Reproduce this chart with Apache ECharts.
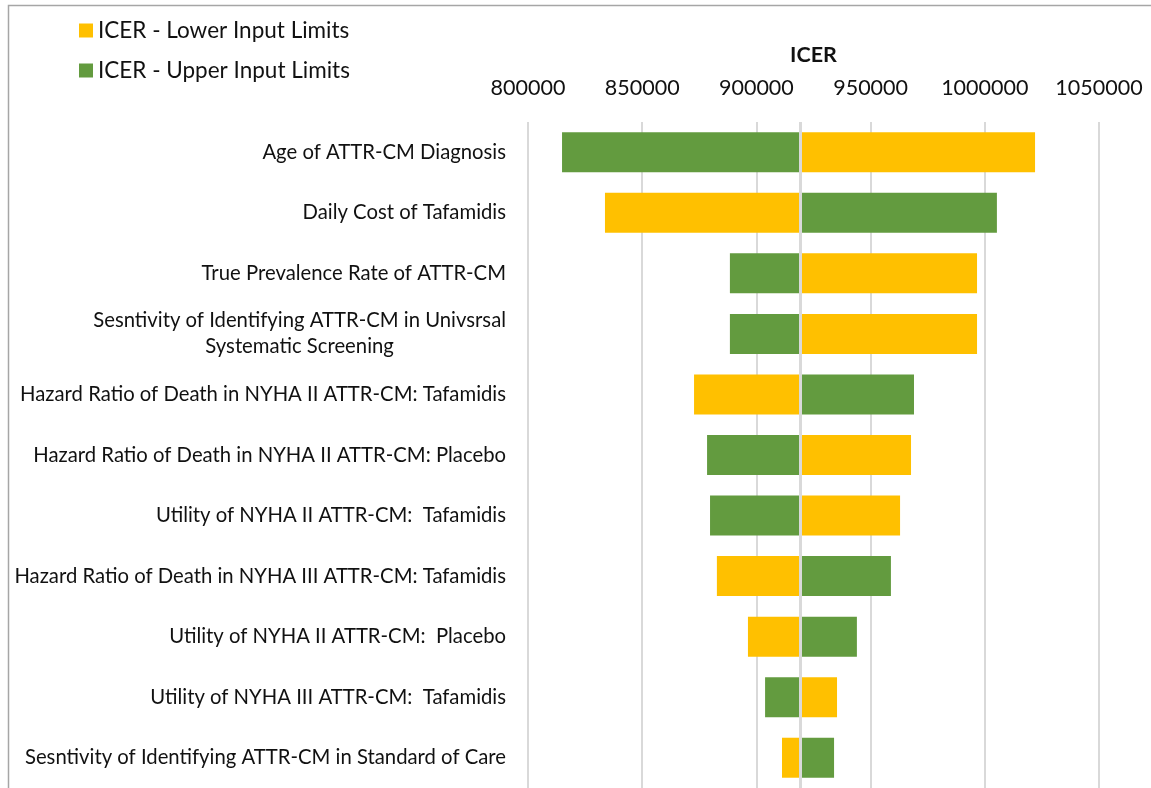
<!DOCTYPE html>
<html>
<head>
<meta charset="utf-8">
<script src="https://cdn.jsdelivr.net/npm/echarts@6/dist/echarts.min.js"></script>
<style>
html,body{margin:0;padding:0;background:#fff;}
#chart{width:1151px;height:788px;}
</style>
</head>
<body>
<div id="chart"></div>
<script>
var categories = [
  'Age of ATTR-CM Diagnosis',
  'Daily Cost of Tafamidis',
  'True Prevalence Rate of ATTR-CM',
  'Sesntivity of Identifying ATTR-CM in Univsrsal\nSystematic Screening',
  'Hazard Ratio of Death in NYHA II ATTR-CM: Tafamidis',
  'Hazard Ratio of Death in NYHA II ATTR-CM: Placebo',
  'Utility of NYHA II ATTR-CM:  Tafamidis',
  'Hazard Ratio of Death in NYHA III ATTR-CM: Tafamidis',
  'Utility of NYHA II ATTR-CM:  Placebo',
  'Utility of NYHA III ATTR-CM:  Tafamidis',
  'Sesntivity of Identifying ATTR-CM in Standard of Care'
];
var baseICER = 919300;
var lowerLimits = [1022000, 833700, 996600, 996600, 872700, 967700, 962900, 882700, 896300, 935300, 911200];
var upperLimits = [814900, 1005300, 888400, 888400, 969000, 878400, 879700, 958900, 944000, 903800, 934000];
var xTicks = {min: 800000, max: 1050000, interval: 50000};

var LOWER = 'ICER - Lower Input Limits';
var UPPER = 'ICER - Upper Input Limits';
var cLower = '#FFC000';
var cUpper = '#639B3F';

var helper = [], lowerLeft = [], upperLeft = [], lowerRight = [], upperRight = [];
for (var i = 0; i < categories.length; i++) {
  var L = lowerLimits[i], U = upperLimits[i];
  helper.push(Math.min(L, U, baseICER));
  lowerLeft.push(L < baseICER ? baseICER - L : 0);
  upperLeft.push(U < baseICER ? baseICER - U : 0);
  lowerRight.push(L > baseICER ? L - baseICER : 0);
  upperRight.push(U > baseICER ? U - baseICER : 0);
}

var font = 'Lato';
var barW = 40;
var labelSize = 20.3;
function bar(name, data, color, extra) {
  var s = {
    name: name, type: 'bar', stack: 't', data: data, barWidth: barW,
    itemStyle: {color: color}, silent: true, animation: false
  };
  if (extra) for (var k in extra) s[k] = extra[k];
  return s;
}

var chart = echarts.init(document.getElementById('chart'));
chart.setOption({
  backgroundColor: '#fff',
  animation: false,
  textStyle: {fontFamily: font},
  legend: {
    orient: 'vertical', left: 74, top: 14,
    data: [LOWER, UPPER],
    icon: 'rect', itemWidth: 14, itemHeight: 14, itemGap: 17,
    textStyle: {fontSize: 22.5, color: '#111', fontFamily: font}
  },
  graphic: [{
    type: 'polyline', silent: true,
    shape: {points: [[8.5, 800], [8.5, 5.5], [1160, 5.5]]},
    style: {stroke: '#a6a6a6', lineWidth: 1.5, fill: null}
  }],
  grid: {left: 528, right: 52, top: 122, height: 671, containLabel: false},
  xAxis: {
    type: 'value', position: 'top',
    min: xTicks.min, max: xTicks.max, interval: xTicks.interval,
    name: 'ICER', nameLocation: 'middle', nameGap: 56,
    nameTextStyle: {fontSize: 21.5, fontWeight: 'bold', color: '#111', fontFamily: font},
    axisLabel: {fontSize: 21.5, color: '#111', margin: 23, fontFamily: font,
      formatter: function (v) { return String(v); }},
    axisLine: {show: false}, axisTick: {show: false},
    splitLine: {lineStyle: {color: '#d9d9d9', width: 2}}
  },
  yAxis: {
    type: 'category', inverse: true, data: categories,
    axisLine: {show: false}, axisTick: {show: false},
    axisLabel: {
      fontSize: labelSize, color: '#111', margin: 22, lineHeight: 26, fontFamily: font,
      formatter: function (v) {
        if (v.indexOf('\n') < 0) return v;
        return v.split('\n').map(function (s) { return '{c|' + s + '}'; }).join('\n');
      },
      rich: {
        c: {align: 'center', fontSize: labelSize, lineHeight: 26, color: '#111', fontFamily: font}
      }
    }
  },
  series: [
    bar('helper', helper, 'rgba(0,0,0,0)'),
    bar(LOWER, lowerLeft, cLower),
    bar(UPPER, upperLeft, cUpper),
    bar(LOWER, lowerRight, cLower),
    bar(UPPER, upperRight, cUpper, {
      markLine: {
        silent: true, symbol: 'none', label: {show: false},
        lineStyle: {color: '#d9d9d9', width: 3, type: 'solid'},
        data: [{xAxis: baseICER}]
      }
    })
  ]
});
</script>
</body>
</html>
